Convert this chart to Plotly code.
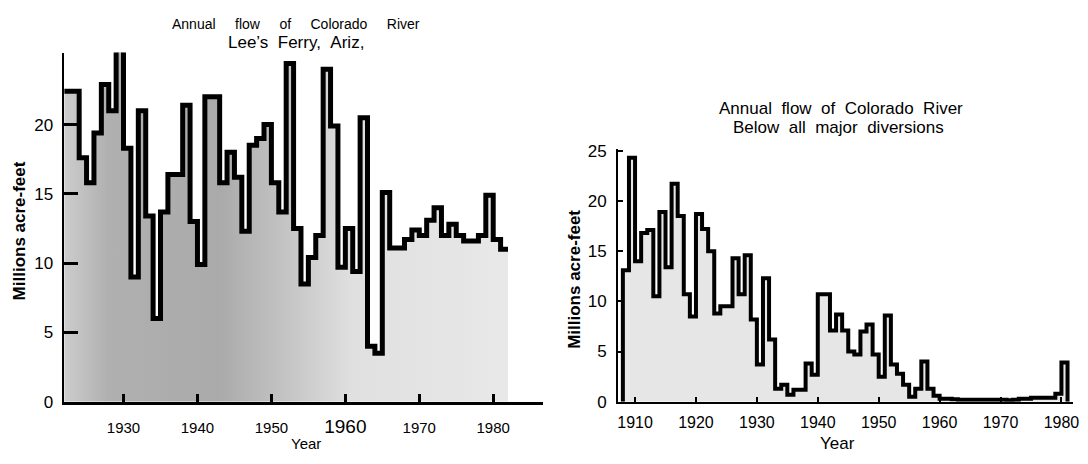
import plotly.graph_objects as go

# ---- Left panel: Lee's Ferry, Ariz. ----
lee_years = list(range(1922, 1982))
lee_flow = [22.4, 22.4, 17.6, 15.8, 19.4, 22.9, 21.0, 26.0, 18.3, 9.0,
            21.0, 13.4, 6.0, 13.7, 16.4, 16.4, 21.4, 13.0, 9.9, 22.0,
            22.0, 15.8, 18.0, 16.2, 12.3, 18.5, 19.0, 20.0, 15.8, 13.7,
            24.4, 12.5, 8.5, 10.4, 12.0, 24.0, 19.9, 9.7, 12.5, 9.4,
            20.5, 4.0, 3.5, 15.1, 11.1, 11.1, 11.7, 12.4, 12.0, 13.1,
            14.0, 12.0, 12.8, 12.0, 11.6, 11.6, 12.0, 14.9, 11.7, 11.0]

# ---- Right panel: below all major diversions ----
below_years = list(range(1908, 1981))
below_flow = [13.1, 24.3, 14.0, 16.8, 17.1, 10.5, 18.9, 13.4, 21.7, 18.5,
              10.7, 8.5, 18.7, 17.2, 15.0, 8.8, 9.5, 9.5, 14.3, 10.7,
              14.6, 8.2, 3.7, 12.3, 6.2, 1.3, 1.7, 0.7, 1.2, 1.2,
              3.8, 2.7, 10.7, 10.7, 7.1, 8.7, 7.1, 5.0, 4.7, 7.0,
              7.7, 4.7, 2.5, 8.6, 3.7, 2.8, 1.7, 0.5, 1.3, 4.0,
              1.3, 0.6, 0.3, 0.3, 0.25, 0.2, 0.2, 0.2, 0.2, 0.2,
              0.2, 0.2, 0.2, 0.15, 0.2, 0.3, 0.3, 0.4, 0.4, 0.4,
              0.4, 0.8, 3.9]

left_xticks = [1930, 1940, 1950, 1960, 1970, 1980]
left_xtext = ["1930", "1940", "1950", '<span style="font-size:19px">1960</span>', "1970", "1980"]
left_yticks = [0, 5, 10, 15, 20]
right_xticks = [1910, 1920, 1930, 1940, 1950, 1960, 1970, 1980]
right_yticks = [0, 5, 10, 15, 20, 25]

FONT = "Liberation Sans, Arial, sans-serif"
PAGE_W, PAGE_H = 1088, 464
OFF = 8  # default body margin of the html page
W, H = PAGE_W - 2 * OFF, PAGE_H - 2 * OFF


def px_x(p):
    return (p - OFF) / W


def px_y(p):
    return 1 - (p - OFF) / H


fig = go.Figure()

# left step line (closing the last year)
lx = lee_years + [lee_years[-1] + 1]
ly = lee_flow + [lee_flow[-1]]
fig.add_trace(go.Scatter(
    x=lx, y=ly, mode="lines", line=dict(shape="hv", color="black", width=5),
    fill="tozeroy",
    fillgradient=dict(type="horizontal",
                      colorscale=[[0, "#cccccc"], [0.1, "#b0b0b0"], [0.35, "#aaaaaa"],
                                  [0.5, "#c4c4c4"], [0.65, "#e0e0e0"], [1, "#e8e8e8"]]),
    xaxis="x", yaxis="y", showlegend=False, hoverinfo="skip"))

# right step line, rising from and returning to zero
rx = [below_years[0]] + below_years + [below_years[-1] + 1, below_years[-1] + 1]
ry = [0] + below_flow + [below_flow[-1], 0]
fig.add_trace(go.Scatter(
    x=rx, y=ry, mode="lines", line=dict(shape="hv", color="black", width=4),
    fill="tozeroy", fillcolor="#e6e6e6",
    xaxis="x2", yaxis="y2", showlegend=False, hoverinfo="skip"))

axis_common = dict(showgrid=False, zeroline=False, showline=True, linecolor="black",
                   ticks="inside", tickcolor="black")

fig.update_layout(
    width=W, height=H, margin=dict(l=0, r=0, t=0, b=0),
    paper_bgcolor="white", plot_bgcolor="white",
    font=dict(family=FONT, color="black"),
    xaxis=dict(domain=[px_x(63), px_x(546)], range=[1921.9, 1986.8],
               tickvals=left_xticks, ticktext=left_xtext, ticklen=8, tickwidth=3,
               linewidth=3, ticklabelstandoff=10,
               tickfont=dict(size=15, family=FONT), anchor="y", **axis_common),
    yaxis=dict(domain=[px_y(410), px_y(47)], range=[0, 25.2],
               tickvals=left_yticks, ticklen=14, tickwidth=3, linewidth=2,
               ticklabelstandoff=5,
               tickfont=dict(size=17, family=FONT), anchor="x", **axis_common),
    xaxis2=dict(domain=[px_x(621), px_x(1079)], range=[1907.2, 1981.9],
                tickvals=right_xticks, ticklen=5, tickwidth=2, linewidth=2,
                ticklabelstandoff=5, ticklabeloverflow="allow",
                tickfont=dict(size=16, family=FONT), anchor="y2", **axis_common),
    yaxis2=dict(domain=[px_y(410), px_y(147)], range=[0, 25.2],
                tickvals=right_yticks, ticklen=5, tickwidth=2, linewidth=2,
                ticklabelstandoff=6,
                tickfont=dict(size=17, family=FONT), anchor="x2", **axis_common),
)

G5 = "&nbsp;" * 5
G2 = "&nbsp;&nbsp;"
ann = [
    dict(text=G5.join(["Annual", "flow", "of", "Colorado", "River"]),
         x=px_x(297), y=px_y(17), size=14),
    dict(text=G2.join(["Lee’s", "Ferry,", "Ariz,"]), x=px_x(297), y=px_y(37), size=17),
    dict(text=G2.join(["Annual", "flow", "of", "Colorado", "River"]),
         x=px_x(845), y=px_y(105), size=17),
    dict(text=G2.join(["Below", "all", "major", "diversions"]),
         x=px_x(843), y=px_y(125), size=17),
    dict(text="Year", x=px_x(307), y=px_y(453), size=15),
    dict(text="Year", x=px_x(842), y=px_y(453), size=17),
]
for a in ann:
    fig.add_annotation(text=a["text"], x=a["x"], y=a["y"], xref="paper", yref="paper",
                       xanchor="center", yanchor="middle", showarrow=False,
                       font=dict(size=a["size"], family=FONT, color="black"))

fig.add_annotation(text="<b>Millions acre-feet</b>", x=px_x(19), y=px_y(232), xref="paper",
                   yref="paper", xanchor="center", yanchor="middle", showarrow=False,
                   textangle=-90, font=dict(size=17, family=FONT, color="black"))
fig.add_annotation(text="<b>Millions acre-feet</b>", x=px_x(577), y=px_y(283), xref="paper",
                   yref="paper", xanchor="center", yanchor="middle", showarrow=False,
                   textangle=-90, font=dict(size=17, family=FONT, color="black"))

fig.write_html("out.html")
